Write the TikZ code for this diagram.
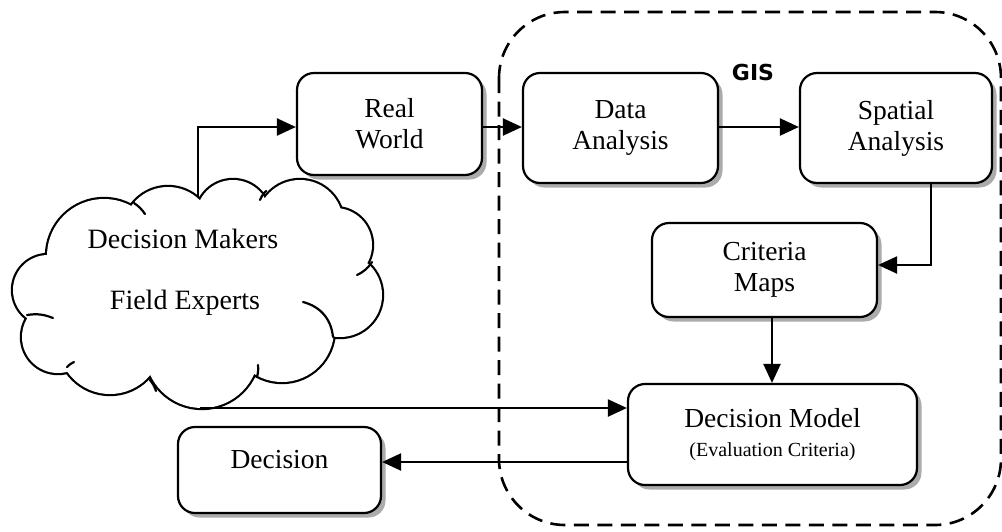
\documentclass[tikz,border=0pt]{standalone}
\usepackage{fontspec}
\setmainfont{Liberation Serif}
\newfontfamily\gisfont{DejaVu Sans}
\usetikzlibrary{arrows.meta,shadows}
\begin{document}
\begin{tikzpicture}[x=1pt,y=-1pt,
  box/.style={draw, line width=2.2pt, rounded corners=17pt, fill=white,
    inner sep=0pt, align=center,
    drop shadow={shadow xshift=4.5pt, shadow yshift=-4.5pt, fill=black!55, opacity=0.6},
    font=\fontsize{27.5}{31}\selectfont},
  conn/.style={line width=2.2pt, -{Triangle[length=19pt,width=17pt]}},
  gisframe/.style={draw, line width=2.6pt, dash pattern=on 15pt off 8.5pt, rounded corners=66pt},
  txt/.style={inner sep=0pt, font=\fontsize{28}{31}\selectfont},
  tail/.style={line width=2.2pt, line cap=round}
]
\useasboundingbox (0,0) rectangle (1002,531);

% GIS frame
\draw[gisframe] (499,12) rectangle (1001,525);
\node[inner sep=0pt, font=\gisfont\bfseries\fontsize{22}{25}\selectfont] (gis) at (753,72) {GIS};

% boxes
\node[box, minimum width=185pt, minimum height=102pt] (rw) at (389.5,124) {Real\\World};
\node[box, minimum width=195pt, minimum height=110pt] (da) at (620.5,128) {Data\\Analysis};
\node[box, minimum width=192pt, minimum height=110pt] (sa) at (896,128) {Spatial\\Analysis};
\node[box, minimum width=225pt, minimum height=94pt] (cm) at (764.5,270) {Criteria\\Maps};
\node[box, minimum width=289pt, minimum height=101pt] (dm) at (772.5,434.5)
  {Decision Model\\[-2pt]{\fontsize{20}{22}\selectfont(Evaluation Criteria)}};
\node[box, minimum width=203pt, minimum height=86pt, text depth=22pt] (dec) at (279.5,470) {Decision};

% cloud: union of puffs
\def\puffs{%
  (48,290) circle[radius=35]
  (104,256) circle[radius=57]
  (168,232) circle[radius=45]
  (233,217) circle[radius=37]
  (300,223) circle[radius=43]
  (335,245) circle[radius=37]
  (340,295) circle[radius=42]
  (282,330) circle[radius=52]
  (202,351) circle[radius=57]
  (110,342) circle[radius=52]
  (58,337) circle[radius=36]}
\draw[line width=4.4pt] \puffs;
\fill[white] \puffs;
\fill[white] (197,290) ellipse[x radius=150, y radius=85];
% puff tails
\draw[tail] (303,302) to[bend left=35] (333,337);
\draw[tail] (372,262) to[bend left=15] (357,275);
\draw[tail] (27,315) to[bend left=15] (53,318);
\draw[tail] (134,203) to[bend left=10] (145,214);
\draw[tail] (258,365) to[bend left=10] (257,377);
\draw[tail] (150,380) to[bend left=10] (156,391);
\draw[tail] (67,367) to[bend left=10] (74,362);
\draw[tail] (260,200) to[bend left=10] (266,191);

\node[txt] (dmk) at (183,239) {Decision Makers};
\node[txt] (fex) at (185,303) {Field Experts};

% helper coordinates
\coordinate (ctop) at (198,197);
\coordinate (cbot) at (200,408);
\coordinate (yrow) at (0,127);
\coordinate (xsa) at (931,0);
\coordinate (ycm) at (0,265);
\coordinate (xcm) at (772,0);
\coordinate (ydec) at (0,462);

% connectors
\draw[conn] (ctop) |- (rw.west |- yrow);
\draw[conn] (rw.east |- yrow) -- (da.west |- yrow);
\draw[conn] (da.east |- yrow) -- (sa.west |- yrow);
\draw[conn] (sa.south -| xsa) |- (cm.east |- ycm);
\draw[conn] (cm.south -| xcm) -- (dm.north -| xcm);
\draw[conn] (cbot) -- (cbot -| dm.west);
\draw[conn] (dm.west |- ydec) -- (dec.east |- ydec);
\end{tikzpicture}
\end{document}
